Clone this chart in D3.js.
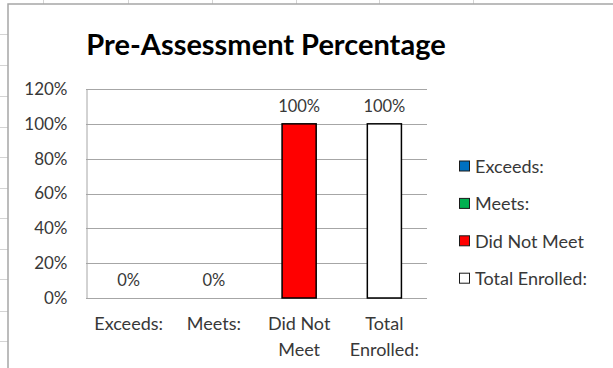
<!DOCTYPE html>
<html>
<head>
<meta charset="utf-8">
<script src="https://cdn.jsdelivr.net/npm/d3@7"></script>
<style>
  html, body { margin: 0; padding: 0; background: #fff; }
  svg { display: block; }
  text { font-family: Lato, "Open Sans", sans-serif; }
</style>
</head>
<body>
<svg id="chart" width="613" height="368"></svg>
<script>
// Pre-assessment results by category
const categories = ["Exceeds:", "Meets:", "Did Not Meet", "Total Enrolled:"];
const axisLabels = [["Exceeds:"], ["Meets:"], ["Did Not", "Meet"], ["Total", "Enrolled:"]];
const values = [0, 0, 1, 1];
const colors = ["#0070C0", "#00B050", "#FF0000", "#FFFFFF"];
const yTicks = [0, 0.2, 0.4, 0.6, 0.8, 1.0, 1.2];
const title = "Pre-Assessment Percentage";

const svg = d3.select("#chart");
const W = 613, H = 368;

// worksheet cell grid peeking out around the chart object
const sheetCols = [43, 128, 212, 296, 379, 473];
const sheetRows = [34, 65, 96, 127, 157, 188, 218, 249, 279, 311, 341];
const sheet = svg.append("g").attr("stroke", "#d4d4d4").attr("stroke-width", 1);
sheet.selectAll("line.c").data(sheetCols).join("line")
  .attr("x1", d => d + 0.5).attr("x2", d => d + 0.5).attr("y1", 0).attr("y2", 4);
sheet.selectAll("line.r").data(sheetRows).join("line")
  .attr("x1", 0).attr("x2", 8).attr("y1", d => d + 0.5).attr("y2", d => d + 0.5);

// chart object frame
svg.append("rect").attr("x", 8).attr("y", 4).attr("width", W).attr("height", H)
  .attr("fill", "#fff").attr("stroke", "#a6a6a6").attr("stroke-width", 1.5);

// plot area
const plot = { left: 86, right: 427, top: 89, bottom: 298 };

const x = d3.scaleBand()
  .domain(categories)
  .range([plot.left, plot.right])
  .paddingInner(0.6)
  .paddingOuter(0.3);

const y = d3.scaleLinear()
  .domain([0, 1.2])
  .range([plot.bottom, plot.top]);

const pct = d3.format(".0%");

// horizontal gridlines
svg.append("g")
  .selectAll("line").data(yTicks).join("line")
  .attr("x1", plot.left).attr("x2", plot.right)
  .attr("y1", d => Math.round(y(d)) + 0.5).attr("y2", d => Math.round(y(d)) + 0.5)
  .attr("stroke", "#a6a6a6").attr("stroke-width", 1);

// value axis
const yAxis = svg.append("g")
  .attr("transform", `translate(${plot.left + 0.5},0)`)
  .call(d3.axisLeft(y).tickValues(yTicks).tickFormat(pct).tickSize(0).tickPadding(19));
yAxis.select(".domain").attr("stroke", "#a6a6a6");
yAxis.selectAll("text")
  .attr("fill", "#383838")
  .style("font-size", "17px")
  .style("font-family", "Lato, sans-serif");

// bars
svg.append("g")
  .selectAll("rect").data(categories).join("rect")
  .attr("x", d => x(d))
  .attr("y", (d, i) => y(values[i]))
  .attr("width", x.bandwidth())
  .attr("height", (d, i) => y(0) - y(values[i]))
  .attr("fill", (d, i) => colors[i])
  .attr("stroke", (d, i) => values[i] > 0 ? "#000" : "none")
  .attr("stroke-width", 1.5);

// data labels
svg.append("g")
  .selectAll("text").data(categories).join("text")
  .attr("x", d => x(d) + x.bandwidth() / 2)
  .attr("y", (d, i) => y(values[i]) - 18)
  .attr("text-anchor", "middle")
  .attr("dominant-baseline", "central")
  .attr("fill", "#383838")
  .style("font-size", "16.5px")
  .text((d, i) => pct(values[i]));

// category labels (wrapped)
const cat = svg.append("g")
  .selectAll("text").data(categories).join("text")
  .attr("x", d => x(d) + x.bandwidth() / 2)
  .attr("y", 324)
  .attr("text-anchor", "middle")
  .attr("fill", "#383838")
  .style("font-size", "18px");
cat.selectAll("tspan").data((d, i) => axisLabels[i]).join("tspan")
  .attr("x", function () { return d3.select(this.parentNode).attr("x"); })
  .attr("dy", (d, j) => j === 0 ? "0.35em" : "26px")
  .text(d => d);

// legend
const legend = svg.append("g")
  .selectAll("g").data(categories).join("g")
  .attr("transform", (d, i) => `translate(459,${166 + i * 37.4})`);
legend.append("rect")
  .attr("x", 0.5).attr("y", -5).attr("width", 10).attr("height", 10)
  .attr("fill", (d, i) => colors[i])
  .attr("stroke", "#1a1a1a").attr("stroke-width", 1);
legend.append("text")
  .attr("x", 16).attr("y", 0)
  .attr("dominant-baseline", "central")
  .attr("fill", "#383838")
  .style("font-size", "18px")
  .text(d => d);

// title
svg.append("text")
  .attr("x", 266).attr("y", 43)
  .attr("text-anchor", "middle")
  .attr("dominant-baseline", "central")
  .attr("fill", "#000")
  .style("font-size", "29px")
  .style("font-weight", "bold")
  .text(title);
</script>
</body>
</html>
